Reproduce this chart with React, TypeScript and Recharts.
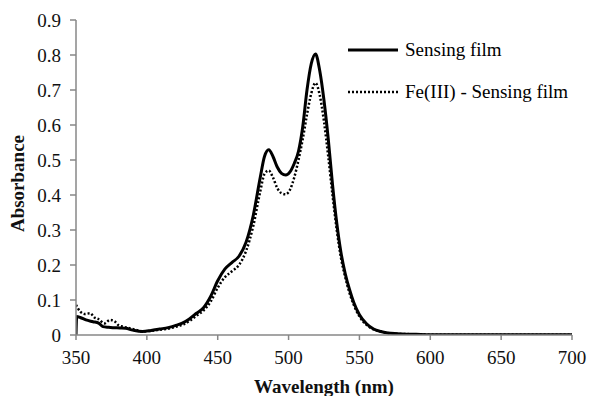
import { Legend, Line, LineChart, XAxis, YAxis } from "recharts";

const font = "'Liberation Serif', 'Times New Roman', serif";
const axisGray = "#878787";

const filmNm = [350, 350.5, 353, 357, 362, 366, 369, 373, 376, 381, 385, 390, 397, 403, 409, 415, 421, 425, 430, 435, 440, 445, 450, 455, 460, 465, 470, 475, 480, 483, 486, 489, 492, 495, 498, 501, 504, 507, 510, 513, 516, 519, 522, 525, 528, 531, 534, 537, 540, 543, 546, 550, 555, 560, 565, 570, 575, 580, 590, 600, 620, 650, 680, 700];
const filmAbs = [0.0, 0.053, 0.05, 0.043, 0.038, 0.034, 0.024, 0.022, 0.021, 0.02, 0.019, 0.014, 0.01, 0.013, 0.017, 0.021, 0.028, 0.034, 0.046, 0.062, 0.078, 0.11, 0.155, 0.188, 0.207, 0.225, 0.265, 0.34, 0.45, 0.51, 0.529, 0.51, 0.48, 0.462, 0.457, 0.466, 0.49, 0.525, 0.595, 0.7, 0.775, 0.803, 0.755, 0.67, 0.56, 0.43, 0.32, 0.235, 0.175, 0.13, 0.093, 0.058, 0.032, 0.017, 0.01, 0.006, 0.004, 0.003, 0.002, 0.001, 0.001, 0.001, 0.001, 0.001];

const feNm = [350, 353, 356, 360, 363, 366, 370, 374, 377, 380, 383, 387, 392, 397, 403, 409, 415, 421, 425, 430, 435, 440, 445, 450, 455, 460, 465, 470, 475, 480, 483, 486, 489, 492, 495, 498, 501, 504, 507, 510, 513, 516, 519, 522, 525, 528, 531, 534, 537, 540, 543, 546, 550, 555, 560, 565, 570, 575, 580, 590, 600, 620, 650, 680, 700];
const feAbs = [0.086, 0.067, 0.06, 0.062, 0.05, 0.045, 0.033, 0.043, 0.04, 0.028, 0.024, 0.02, 0.015, 0.01, 0.012, 0.015, 0.018, 0.024, 0.029, 0.04, 0.055, 0.07, 0.095, 0.135, 0.165, 0.182, 0.2, 0.24, 0.31, 0.41, 0.46, 0.47, 0.45, 0.42, 0.405, 0.402, 0.415, 0.45, 0.5, 0.56, 0.63, 0.69, 0.72, 0.685, 0.61, 0.51, 0.4, 0.3, 0.22, 0.165, 0.12, 0.086, 0.053, 0.029, 0.016, 0.01, 0.006, 0.004, 0.003, 0.002, 0.001, 0.001, 0.001, 0.001, 0.001];

const xTicks = [350, 400, 450, 500, 550, 600, 650, 700];
const yTicks = [0, 0.1, 0.2, 0.3, 0.4, 0.5, 0.6, 0.7, 0.8, 0.9];

const filmData = filmNm.map((nm, i) => ({ nm, abs: filmAbs[i] }));
const feData = feNm.map((nm, i) => ({ nm, abs: feAbs[i] }));

function LegendBox() {
  const row = (dash: string | undefined, label: string) => (
    <div style={{ display: "flex", alignItems: "center", height: 42 }}>
      <svg width={52} height={8}>
        <line x1={1} y1={4} x2={51} y2={4} stroke="#000" strokeWidth={dash ? 2.5 : 3} strokeDasharray={dash} />
      </svg>
      <span style={{ marginLeft: 6, fontFamily: font, fontSize: 19, color: "#000", whiteSpace: "nowrap" }}>{label}</span>
    </div>
  );
  return (
    <div>
      {row(undefined, "Sensing film")}
      {row("2 2", "Fe(III) - Sensing film")}
    </div>
  );
}

export default function App() {
  const tickStyle = { fontFamily: font, fontSize: 19, fill: "#111" };
  const titleStyle = { fontFamily: font, fontSize: 19, fontWeight: "bold", fill: "#111" };
  return (
    <div style={{ position: "absolute", left: 0, top: 0, background: "#fff", fontFamily: font }}>
      <LineChart width={589} height={396} margin={{ top: 20, right: 17, bottom: 0, left: 0 }} style={{ fontFamily: font }}>
        <XAxis
          type="number"
          dataKey="nm"
          domain={[350, 700]}
          ticks={xTicks}
          allowDataOverflow
          stroke={axisGray}
          strokeWidth={1.5}
          tickSize={5}
          tick={tickStyle}
          tickMargin={11}
          height={61}
          label={{ value: "Wavelength (nm)", position: "insideBottom", offset: 3, style: titleStyle }}
        />
        <YAxis
          type="number"
          dataKey="abs"
          domain={[0, 0.9]}
          ticks={yTicks}
          allowDataOverflow
          width={76}
          stroke={axisGray}
          strokeWidth={1.5}
          tickSize={6}
          tick={tickStyle}
          tickMargin={9}
          label={{ value: "Absorbance", angle: -90, position: "insideLeft", offset: 17, dy: 6, style: { ...titleStyle, textAnchor: "middle" } }}
        />
        <Legend
          layout="vertical"
          verticalAlign="middle"
          align="center"
          content={<LegendBox />}
          wrapperStyle={{ left: 347, top: 29, width: 240, height: 84 }}
        />
        <Line data={filmData} dataKey="abs" name="Sensing film" type="monotone" stroke="#000" strokeWidth={3} dot={false} isAnimationActive={false} />
        <Line data={feData} dataKey="abs" name="Fe(III) - Sensing film" type="monotone" stroke="#000" strokeWidth={2.5} strokeDasharray="2 2" dot={false} isAnimationActive={false} />
      </LineChart>
    </div>
  );
}
